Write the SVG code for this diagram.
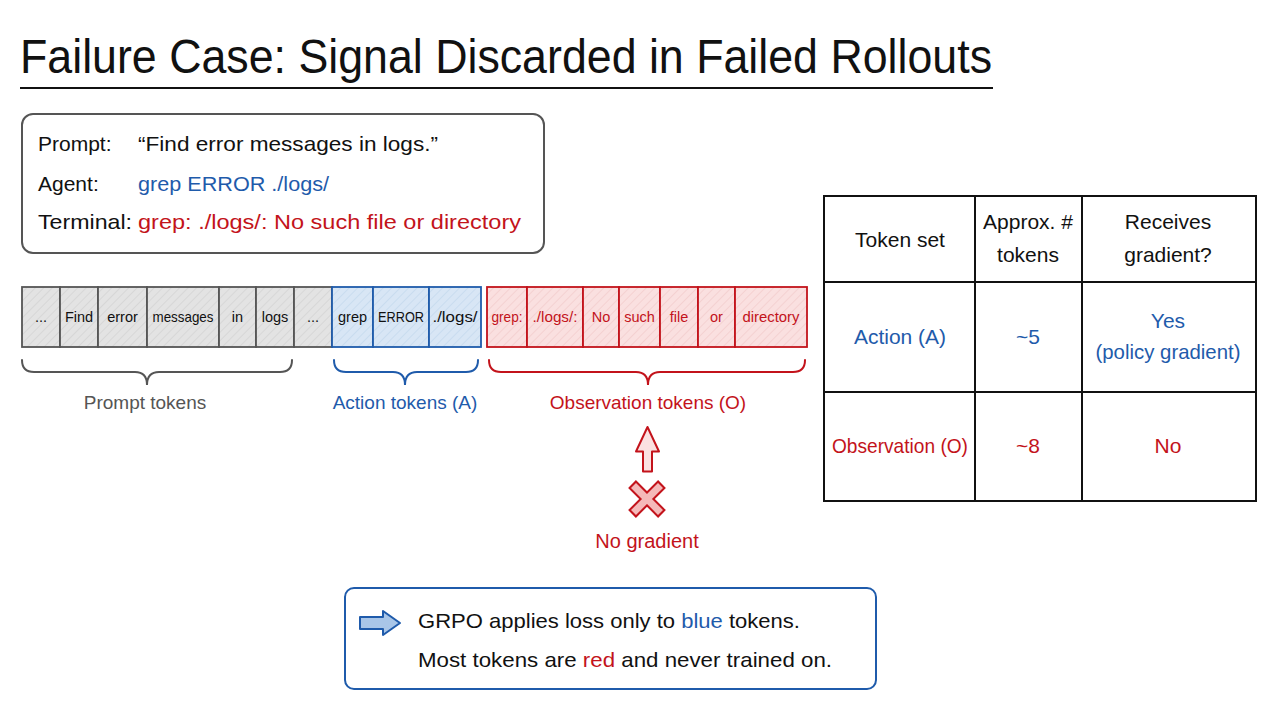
<svg xmlns="http://www.w3.org/2000/svg" width="1280" height="720" viewBox="0 0 1280 720">
<defs>
<style>
text{font-family:"Liberation Sans","DejaVu Sans",sans-serif;}
.t{fill:#111;}
.blue{fill:#1f5bab;}
.red{fill:#c3131b;}
.gray{fill:#555;}
.tok{font-size:14.5px;text-anchor:middle;}
.cg{fill:url(#hg);stroke:#555;stroke-width:1.8;}
.cb{fill:url(#hb);stroke:#1f5bab;stroke-width:1.8;}
.cr{fill:url(#hr);stroke:#c3131b;stroke-width:1.8;}
.brace{fill:none;stroke-width:2;stroke-linecap:round;}
.tbl{font-size:21px;text-anchor:middle;}
.box{font-size:21px;}
</style>
<pattern id="hg" width="6" height="6" patternUnits="userSpaceOnUse" patternTransform="rotate(45)">
<rect width="6" height="6" fill="#e3e3e3"/><line x1="0" y1="0" x2="0" y2="6" stroke="#cfcfcf" stroke-width="1.2"/>
</pattern>
<pattern id="hb" width="6" height="6" patternUnits="userSpaceOnUse" patternTransform="rotate(45)">
<rect width="6" height="6" fill="#d8e6f5"/><line x1="0" y1="0" x2="0" y2="6" stroke="#c0d5ec" stroke-width="1.2"/>
</pattern>
<pattern id="hr" width="6" height="6" patternUnits="userSpaceOnUse" patternTransform="rotate(45)">
<rect width="6" height="6" fill="#fae0e0"/><line x1="0" y1="0" x2="0" y2="6" stroke="#f1c8c8" stroke-width="1.2"/>
</pattern>
</defs>
<rect width="1280" height="720" fill="#ffffff"/>

<g id="title">
<text x="20" y="73" class="t" font-size="49" textLength="972" lengthAdjust="spacingAndGlyphs">Failure Case: Signal Discarded in Failed Rollouts</text>
<line x1="20" y1="88" x2="993" y2="88" stroke="#111" stroke-width="2.2"/>
</g>

<g id="prompt-box">
<rect x="22" y="114" width="522" height="139" rx="11" fill="#fff" stroke="#555" stroke-width="2"/>
<text x="38" y="151" class="t box">Prompt:</text>
<text x="138" y="151" class="t box" textLength="300" lengthAdjust="spacingAndGlyphs">“Find error messages in logs.”</text>
<text x="38" y="191" class="t box">Agent:</text>
<text x="138" y="191" class="blue box" textLength="191" lengthAdjust="spacingAndGlyphs">grep ERROR ./logs/</text>
<text x="38" y="229" class="t box" textLength="94" lengthAdjust="spacingAndGlyphs">Terminal:</text>
<text x="138" y="229" class="red box" textLength="383" lengthAdjust="spacingAndGlyphs">grep: ./logs/: No such file or directory</text>
</g>

<g id="prompt-tokens">
<rect class="cg" x="22" y="287" width="38" height="60"/>
<rect class="cg" x="60" y="287" width="38" height="60"/>
<rect class="cg" x="98" y="287" width="49" height="60"/>
<rect class="cg" x="147" y="287" width="72" height="60"/>
<rect class="cg" x="219" y="287" width="37" height="60"/>
<rect class="cg" x="256" y="287" width="38" height="60"/>
<rect class="cg" x="294" y="287" width="38" height="60"/>
<text class="t tok" x="41" y="322">...</text>
<text class="t tok" x="79" y="322">Find</text>
<text class="t tok" x="122.5" y="322">error</text>
<text class="t tok" x="183" y="322" textLength="61" lengthAdjust="spacingAndGlyphs">messages</text>
<text class="t tok" x="237.5" y="322">in</text>
<text class="t tok" x="275" y="322">logs</text>
<text class="t tok" x="313" y="322">...</text>
</g>

<g id="action-tokens">
<rect class="cb" x="332" y="287" width="41" height="60"/>
<rect class="cb" x="373" y="287" width="56" height="60"/>
<rect class="cb" x="429" y="287" width="52" height="60"/>
<text class="t tok" x="352.5" y="322">grep</text>
<text class="t tok" x="401" y="322" textLength="46" lengthAdjust="spacingAndGlyphs">ERROR</text>
<text class="t tok" x="455" y="322" textLength="45" lengthAdjust="spacingAndGlyphs">./logs/</text>
</g>

<g id="observation-tokens">
<rect class="cr" x="487" y="287" width="40" height="60"/>
<rect class="cr" x="527" y="287" width="56" height="60"/>
<rect class="cr" x="583" y="287" width="36" height="60"/>
<rect class="cr" x="619" y="287" width="41" height="60"/>
<rect class="cr" x="660" y="287" width="38" height="60"/>
<rect class="cr" x="698" y="287" width="37" height="60"/>
<rect class="cr" x="735" y="287" width="72" height="60"/>
<text class="red tok" x="507" y="322" textLength="31" lengthAdjust="spacingAndGlyphs">grep:</text>
<text class="red tok" x="555" y="322" textLength="45" lengthAdjust="spacingAndGlyphs">./logs/:</text>
<text class="red tok" x="601" y="322">No</text>
<text class="red tok" x="639.5" y="322">such</text>
<text class="red tok" x="679" y="322">file</text>
<text class="red tok" x="716.5" y="322">or</text>
<text class="red tok" x="771" y="322" textLength="57" lengthAdjust="spacingAndGlyphs">directory</text>
</g>

<g id="brace-labels">
<path class="brace" stroke="#555" d="M22,360 Q22,372 34,372 L135,372 Q147,372 147,385 Q147,372 159,372 L280,372 Q292,372 292,360"/>
<text class="gray" x="145" y="409" font-size="19" text-anchor="middle">Prompt tokens</text>
<path class="brace" stroke="#1f5bab" d="M334,360 Q334,372 346,372 L393,372 Q405,372 405,385 Q405,372 417,372 L466,372 Q478,372 478,360"/>
<text class="blue" x="405" y="409" font-size="19" text-anchor="middle">Action tokens (A)</text>
<path class="brace" stroke="#c3131b" d="M489,360 Q489,372 501,372 L636,372 Q648,372 648,385 Q648,372 660,372 L793,372 Q805,372 805,360"/>
<text class="red" x="648" y="409" font-size="19" text-anchor="middle">Observation tokens (O)</text>
</g>

<g id="no-gradient">
<path d="M647.5,427 L659,451.5 L652,451.5 L652,471.5 L643,471.5 L643,451.5 L636,451.5 Z" fill="#fbe1e1" stroke="#c3131b" stroke-width="2" stroke-linejoin="round"/>
<g stroke-linecap="butt">
<line x1="632" y1="484" x2="662" y2="514" stroke="#c3131b" stroke-width="11"/>
<line x1="662" y1="484" x2="632" y2="514" stroke="#c3131b" stroke-width="11"/>
<line x1="633.5" y1="485.5" x2="660.5" y2="512.5" stroke="#f5b9b9" stroke-width="7"/>
<line x1="660.5" y1="485.5" x2="633.5" y2="512.5" stroke="#f5b9b9" stroke-width="7"/>
</g>
<text class="red" x="647" y="548" font-size="20" text-anchor="middle">No gradient</text>
</g>

<g id="table">
<rect x="824" y="196" width="432" height="305" fill="#fff" stroke="#111" stroke-width="2"/>
<line x1="975" y1="196" x2="975" y2="501" stroke="#111" stroke-width="2"/>
<line x1="1082" y1="196" x2="1082" y2="501" stroke="#111" stroke-width="2"/>
<line x1="824" y1="282" x2="1256" y2="282" stroke="#111" stroke-width="2"/>
<line x1="824" y1="392" x2="1256" y2="392" stroke="#111" stroke-width="2"/>
<text class="t tbl" x="900" y="247">Token set</text>
<text class="t tbl" x="1028" y="229">Approx. #</text>
<text class="t tbl" x="1028" y="262">tokens</text>
<text class="t tbl" x="1168" y="229">Receives</text>
<text class="t tbl" x="1168" y="262">gradient?</text>
<text class="blue tbl" x="900" y="344">Action (A)</text>
<text class="blue tbl" x="1028" y="344">~5</text>
<text class="blue tbl" x="1168" y="328">Yes</text>
<text class="blue tbl" x="1168" y="359" textLength="145" lengthAdjust="spacingAndGlyphs">(policy gradient)</text>
<text class="red tbl" x="900" y="453" textLength="136" lengthAdjust="spacingAndGlyphs">Observation (O)</text>
<text class="red tbl" x="1028" y="453">~8</text>
<text class="red tbl" x="1168" y="453">No</text>
</g>

<g id="summary-box">
<rect x="345" y="588" width="531" height="101" rx="9" fill="#fff" stroke="#1f5bab" stroke-width="2"/>
<path d="M360,617 L383,617 L383,611 L400,623 L383,635 L383,629 L360,629 Z" fill="#a9c6e8" stroke="#1f5bab" stroke-width="2" stroke-linejoin="round"/>
<text class="t box" x="418" y="628" textLength="382" lengthAdjust="spacingAndGlyphs">GRPO applies loss only to <tspan class="blue">blue</tspan> tokens.</text>
<text class="t box" x="418" y="667" textLength="414" lengthAdjust="spacingAndGlyphs">Most tokens are <tspan class="red">red</tspan> and never trained on.</text>
</g>
</svg>
